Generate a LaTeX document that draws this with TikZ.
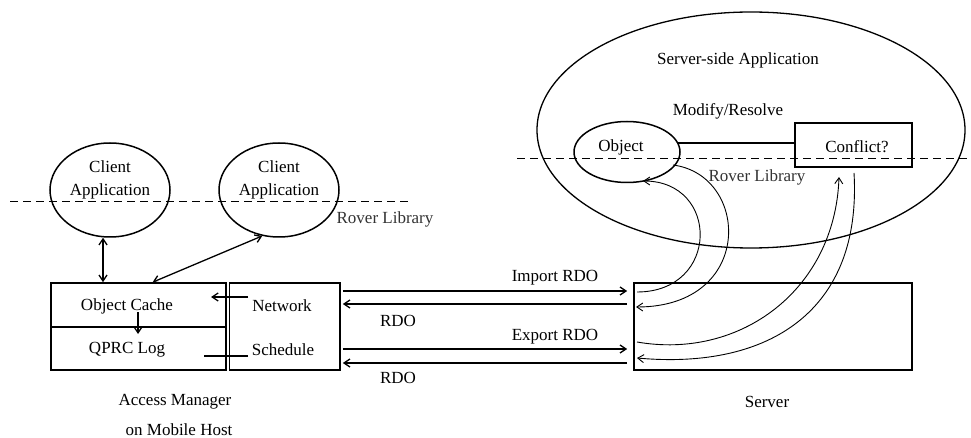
\documentclass[tikz,border=0pt]{standalone}
\usepackage{fontspec}
\setmainfont{Liberation Serif}
\usetikzlibrary{shapes.geometric,arrows.meta,calc}
\begin{document}
\begin{tikzpicture}[x=1pt,y=-1pt,
  every node/.style={font=\fontsize{17}{23}\selectfont,inner sep=0pt},
  lbl/.style={anchor=center},
  roverlbl/.style={text=black!80},
  app/.style={ellipse,draw,line width=1.5pt,minimum width=120pt,minimum height=94pt},
  box/.style={draw,line width=1.6pt},
  link/.style={line width=1.3pt},
  flow/.style={line width=0.9pt},
  tip/.style={-{Straight Barb[length=6pt,width=8pt]}},
  tips/.style={{Straight Barb[length=6pt,width=8pt]}-{Straight Barb[length=6pt,width=8pt]}},
  sep/.style={dashed,dash pattern=on 8pt off 5pt,line width=1pt}]
\useasboundingbox (0,0) rectangle (971,438);

% ---- mobile host side ----
\node[app] (ca1) at (110,190) {};
\node[app] (ca2) at (279,190) {};
\node[lbl,align=center] (ca1t) at (110,180) {Client\\Application};
\node[lbl,align=center] (ca2t) at (279,180) {Client\\Application};

\draw[sep] (10,202) coordinate (dl1) -- (410,202) coordinate (dl2);
\node[lbl,roverlbl] (rl1) at (385,219) {Rover Library};

\node[box,minimum width=175pt,minimum height=44pt] (cache) at (138.5,305) {};
\node[box,minimum width=175pt,minimum height=43pt] (qlog) at (138.5,348.5) {};
\node[box,minimum width=110.5pt,minimum height=87pt] (netbox) at (284.75,326.5) {};

\node[lbl] (cachet) at (127,306) {Object Cache};
\node[lbl] (qlogt) at (127,350) {QPRC Log};
\node[lbl] (nett) at (282,306) {Network};
\node[lbl] (scht) at (283,350) {Schedule};

\draw[link,tips] ([xshift=-7pt]ca1.south) -- ([xshift=-7pt]ca1.south |- cache.north);
\draw[link,tips] (ca2.250) -- ($(cache.north west)!0.58!(cache.north east)$);

\coordinate (netin) at (248,297);
\coordinate (cachein) at (211,297);
\draw[link,tip] (netin) -- (cachein);
\coordinate (schout) at (248,356);
\coordinate (login) at (204,356);
\draw[link] (schout) -- (login);
\coordinate (cdown1) at (138,312);
\coordinate (cdown2) at (138,334);
\draw[link,tip] (cdown1) -- (cdown2);

\node[lbl] (am1) at (175,402) {Access Manager};
\node[lbl] (am2) at (179,430) {on Mobile Host};

% ---- server side ----
\node[ellipse,draw,line width=1.3pt,minimum width=428pt,minimum height=236pt] (ssapp) at (751,130) {};
\node[lbl] (ssappt) at (738,60) {Server-side Application};
\node[lbl] (modt) at (728,111) {Modify/Resolve};
\node[ellipse,draw,line width=1.5pt,minimum width=106pt,minimum height=61pt] (obj) at (627,152) {};
\node[lbl] (objt) at (621,147) {Object};
\node[box,minimum width=117pt,minimum height=44pt] (conf) at (853.5,145) {};
\node[lbl] (conft) at (857,147) {Conflict?};
\draw[link] (obj.10) -- (conf.west |- obj.10);

\draw[sep] (517,159) coordinate (dr1) -- (971,159) coordinate (dr2);
\node[lbl,roverlbl] (rl2) at (757,177) {Rover Library};

\node[box,minimum width=278pt,minimum height=87pt] (server) at (773,326.5) {};
\node[lbl] (servt) at (767,402) {Server};

% ---- messages between the hosts ----
\draw[link,tip] (netbox.east |- 0,291) ++(2,0) -- ($(server.west |- 0,291)+(-6,0)$);
\draw[link,tip] ($(server.west |- 0,304)+(-6,0)$) -- ($(netbox.east |- 0,304)+(2,0)$);
\draw[link,tip] (netbox.east |- 0,349) ++(2,0) -- ($(server.west |- 0,349)+(-6,0)$);
\draw[link,tip] ($(server.west |- 0,363)+(-6,0)$) -- ($(netbox.east |- 0,363)+(2,0)$);
\node[lbl] (imp) at (555,278) {Import RDO};
\node[lbl] (rdo1) at (398,321) {RDO};
\node[lbl] (exp) at (555,337) {Export RDO};
\node[lbl] (rdo2) at (398,378) {RDO};

% ---- paths through the Rover library ----
\coordinate (s1) at (637,292);
\coordinate (o1) at (643,181);
\coordinate (o2) at (673,165);
\coordinate (s2) at (636,307);
\coordinate (s3) at (637,342);
\coordinate (c1) at (839,177);
\coordinate (c2) at (854,173);
\coordinate (s4) at (637,358);
\draw[flow,tip] (s1) .. controls (720,292) and (720,181) .. (o1);
\draw[flow,tip] (o2) .. controls (750,175) and (755,307) .. (s2);
\draw[flow,tip] (s3) .. controls (740,360) and (835,290) .. (c1);
\draw[flow,tip] (c2) .. controls (862,310) and (770,370) .. (s4);
\end{tikzpicture}
\end{document}
